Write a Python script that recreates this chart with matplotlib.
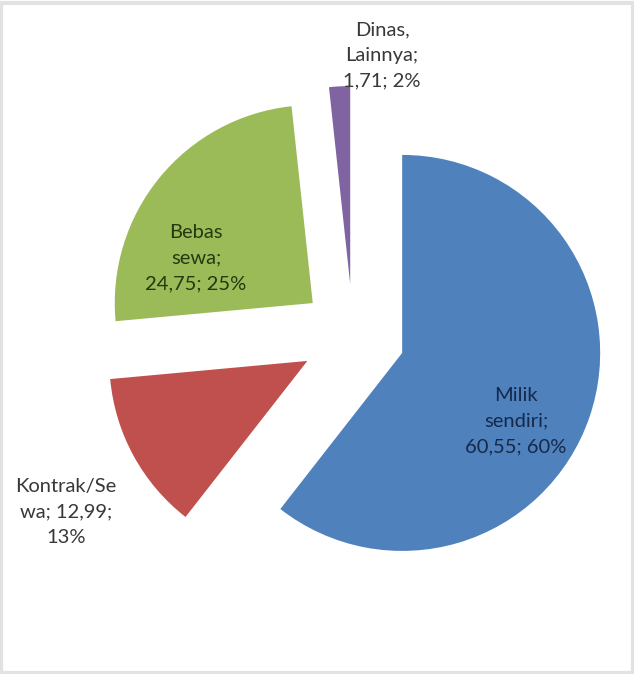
import matplotlib
matplotlib.use("Agg")
import matplotlib.pyplot as plt
from matplotlib.patches import Rectangle

# Housing ownership status (%)
categories = ["Milik\nsendiri", "Kontrak/Se\nwa", "Bebas\nsewa", "Dinas,\nLainnya"]
values = [60.55, 12.99, 24.75, 1.71]
percent_labels = [60, 13, 25, 2]
colors = ["#4F81BD", "#C0504D", "#9BBB59", "#8064A2"]

W, H = 634, 674
fig = plt.figure(figsize=(W / 100, H / 100), dpi=100)
fig.patch.set_facecolor("white")
ax = fig.add_axes([0, 0, 1, 1])

center = (353, H - 336)
radius = 198
offset = 52

ax.pie(values, colors=colors, startangle=90, counterclock=False,
       center=center, radius=radius, explode=[offset] * len(values),
       wedgeprops=dict(linewidth=0), frame=False)
ax.set_xlim(0, W)
ax.set_ylim(0, H)
ax.set_aspect("equal")
ax.axis("off")


def fmt(val):
    return f"{val:.2f}".replace(".", ",")


font = dict(family=["Lato", "DejaVu Sans"], fontsize=14.5, ha="center",
            va="center", linespacing=1.6)

# Milik sendiri (inside)
ax.text(516, H - 421, f"Milik\nsendiri;\n{fmt(values[0])}; {percent_labels[0]}%",
        color="#15294a", **font)
# Kontrak/Sewa (outside, left)
ax.text(66, H - 512, f"Kontrak/Se\nwa; {fmt(values[1])};\n{percent_labels[1]}%",
        color="#383838", **font)
# Bebas sewa (inside)
ax.text(196, H - 258, f"Bebas\nsewa;\n{fmt(values[2])}; {percent_labels[2]}%",
        color="#25380f", **font)
# Dinas, Lainnya (outside, top)
ax.text(382, H - 55, f"Dinas,\nLainnya;\n{fmt(values[3])}; {percent_labels[3]}%",
        color="#383838", **font)

# light frame around the chart area
fig.patches.append(Rectangle((0.002, 0.002), 0.996, 0.993, transform=fig.transFigure,
                             fill=False, edgecolor="#e2e2e2", linewidth=3))

fig.savefig("out.png", dpi=100, facecolor="white")
